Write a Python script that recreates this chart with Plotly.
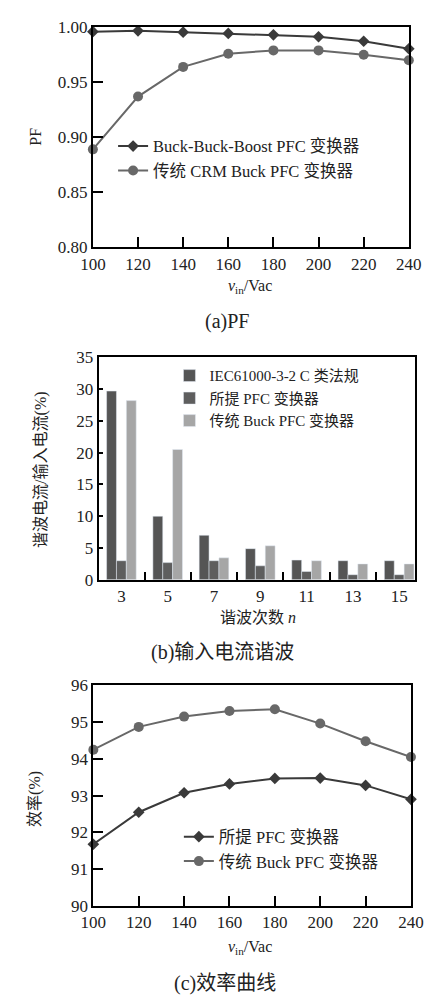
import plotly.graph_objects as go

# ---------- data ----------
vin = [100, 120, 140, 160, 180, 200, 220, 240]
pf_bbb = [0.996, 0.9968, 0.9956, 0.9944, 0.9932, 0.9914, 0.9873, 0.9805]
pf_crm = [0.889, 0.937, 0.964, 0.976, 0.979, 0.979, 0.975, 0.970]

harm_order = ["3", "5", "7", "9", "11", "13", "15"]
harm_iec = [29.7, 10.0, 7.0, 4.9, 3.1, 3.0, 3.0]
harm_prop = [3.0, 2.7, 3.0, 2.2, 1.3, 0.8, 0.8]
harm_buck = [28.2, 20.5, 3.45, 5.35, 3.0, 2.5, 2.5]

eff_prop = [91.68, 92.55, 93.08, 93.32, 93.47, 93.48, 93.28, 92.90]
eff_buck = [94.25, 94.87, 95.15, 95.30, 95.35, 94.96, 94.48, 94.05]

# page is offset by the default 8px body margin; figure sized to fit the window
OFF = 8
W, H = 431, 998
FONT = "Liberation Serif, Times New Roman, Noto Sans CJK SC, serif"
CJK = "Liberation Serif, Noto Sans CJK SC, serif"

def px(x0, x1):
    return [(x0 - OFF) / W, (x1 - OFF) / W]

def py(y_top, y_bot):
    return [1 - (y_bot - OFF) / H, 1 - (y_top - OFF) / H]

def pxp(x):
    return (x - OFF) / W

def pyp(y):
    return 1 - (y - OFF) / H

fig = go.Figure()

C_DARK = "#3a3a3a"
C_MID = "#686868"

# ---- (a) PF ----
fig.add_trace(go.Scatter(x=vin, y=pf_bbb, mode="lines+markers", name="Buck-Buck-Boost PFC 变换器",
                         line=dict(color=C_DARK, width=2),
                         marker=dict(symbol="diamond", size=9, color=C_DARK),
                         xaxis="x", yaxis="y", legend="legend", cliponaxis=False))
fig.add_trace(go.Scatter(x=vin, y=pf_crm, mode="lines+markers", name="传统 CRM Buck PFC 变换器",
                         line=dict(color=C_MID, width=2),
                         marker=dict(symbol="circle", size=10, color=C_MID),
                         xaxis="x", yaxis="y", legend="legend", cliponaxis=False))

# ---- (b) harmonics ----
fig.add_trace(go.Bar(x=harm_order, y=harm_iec, name="IEC61000-3-2 C 类法规",
                     marker=dict(color="#555555"), xaxis="x2", yaxis="y2", legend="legend2"))
fig.add_trace(go.Bar(x=harm_order, y=harm_prop, name="所提 PFC 变换器",
                     marker=dict(color="#5e5e5e"), xaxis="x2", yaxis="y2", legend="legend2"))
fig.add_trace(go.Bar(x=harm_order, y=harm_buck, name="传统 Buck PFC 变换器",
                     marker=dict(color="#a6a6a6"), xaxis="x2", yaxis="y2", legend="legend2"))

# ---- (c) efficiency ----
fig.add_trace(go.Scatter(x=vin, y=eff_prop, mode="lines+markers", name="所提 PFC 变换器",
                         line=dict(color=C_DARK, width=2),
                         marker=dict(symbol="diamond", size=9, color=C_DARK),
                         xaxis="x3", yaxis="y3", legend="legend3", cliponaxis=False))
fig.add_trace(go.Scatter(x=vin, y=eff_buck, mode="lines+markers", name="传统 Buck PFC 变换器",
                         line=dict(color=C_MID, width=2),
                         marker=dict(symbol="circle", size=10, color=C_MID),
                         xaxis="x3", yaxis="y3", legend="legend3", cliponaxis=False))

axis_common = dict(showline=True, linecolor="black", linewidth=2, mirror=True,
                   showgrid=False, zeroline=False, ticks="inside", tickcolor="black",
                   tickwidth=2, tickfont=dict(family=FONT, size=17, color="#222"))

LEG = dict(xanchor="left", yanchor="top", bgcolor="rgba(0,0,0,0)", tracegroupgap=0, itemwidth=30)

fig.update_layout(
    width=W, height=H, margin=dict(l=0, r=0, t=0, b=0),
    paper_bgcolor="white", plot_bgcolor="white",
    font=dict(family=CJK, color="#222"),
    barmode="group", bargap=0.36, bargroupgap=0,
    xaxis=dict(domain=px(84.5, 420.7), anchor="y", range=[100, 240], dtick=20, ticklen=10, **axis_common),
    yaxis=dict(domain=py(18.5, 242.7), anchor="x", range=[0.80, 1.00], dtick=0.05, tickformat=".2f",
               ticklen=10, **axis_common),
    xaxis2=dict(domain=px(90.7, 427.7), anchor="y2", type="category", range=[-0.49, 6.35],
                tickson="boundaries", ticklen=8, **axis_common),
    yaxis2=dict(domain=py(355, 581.7), anchor="x2", range=[0, 35], dtick=5, ticklen=4, **axis_common),
    xaxis3=dict(domain=px(85, 423), anchor="y3", range=[100, 240], dtick=20, ticklen=10, **axis_common),
    yaxis3=dict(domain=py(689.3, 914.3), anchor="x3", range=[90, 96], dtick=1, ticklen=10, **axis_common),
    legend=dict(x=pxp(106), y=pyp(122), font=dict(family=CJK, size=16.5, color="#222"), **LEG),
    legend2=dict(x=pxp(166), y=pyp(357), font=dict(family=CJK, size=15, color="#222"), **LEG),
    legend3=dict(x=pxp(176), y=pyp(826), font=dict(family=CJK, size=16.5, color="#222"), **LEG),
    showlegend=True,
)

def ann(x, y, text, size=15, angle=0):
    fig.add_annotation(x=pxp(x), y=pyp(y), xref="paper", yref="paper", text=text, showarrow=False,
                       textangle=angle, font=dict(family=CJK, size=size, color="#222"),
                       xanchor="center", yanchor="middle")

ann(24, 130, "PF", 16, -90)
ann(252, 283, "<i>v</i><sub>in</sub>/Vac", 16)
ann(227, 318, "(a)PF", 20)

ann(30, 470, "谐波电流/输入电流(%)", 16, -90)
ann(260, 620, "谐波次数 <i>n</i>", 16)
ann(222, 656, "(b)输入电流谐波", 20)

ann(23, 805, "效率(%)", 16, -90)
ann(252, 957, "<i>v</i><sub>in</sub>/Vac", 16)
ann(225, 993, "(c)效率曲线", 20)

fig.write_html("out.html")
